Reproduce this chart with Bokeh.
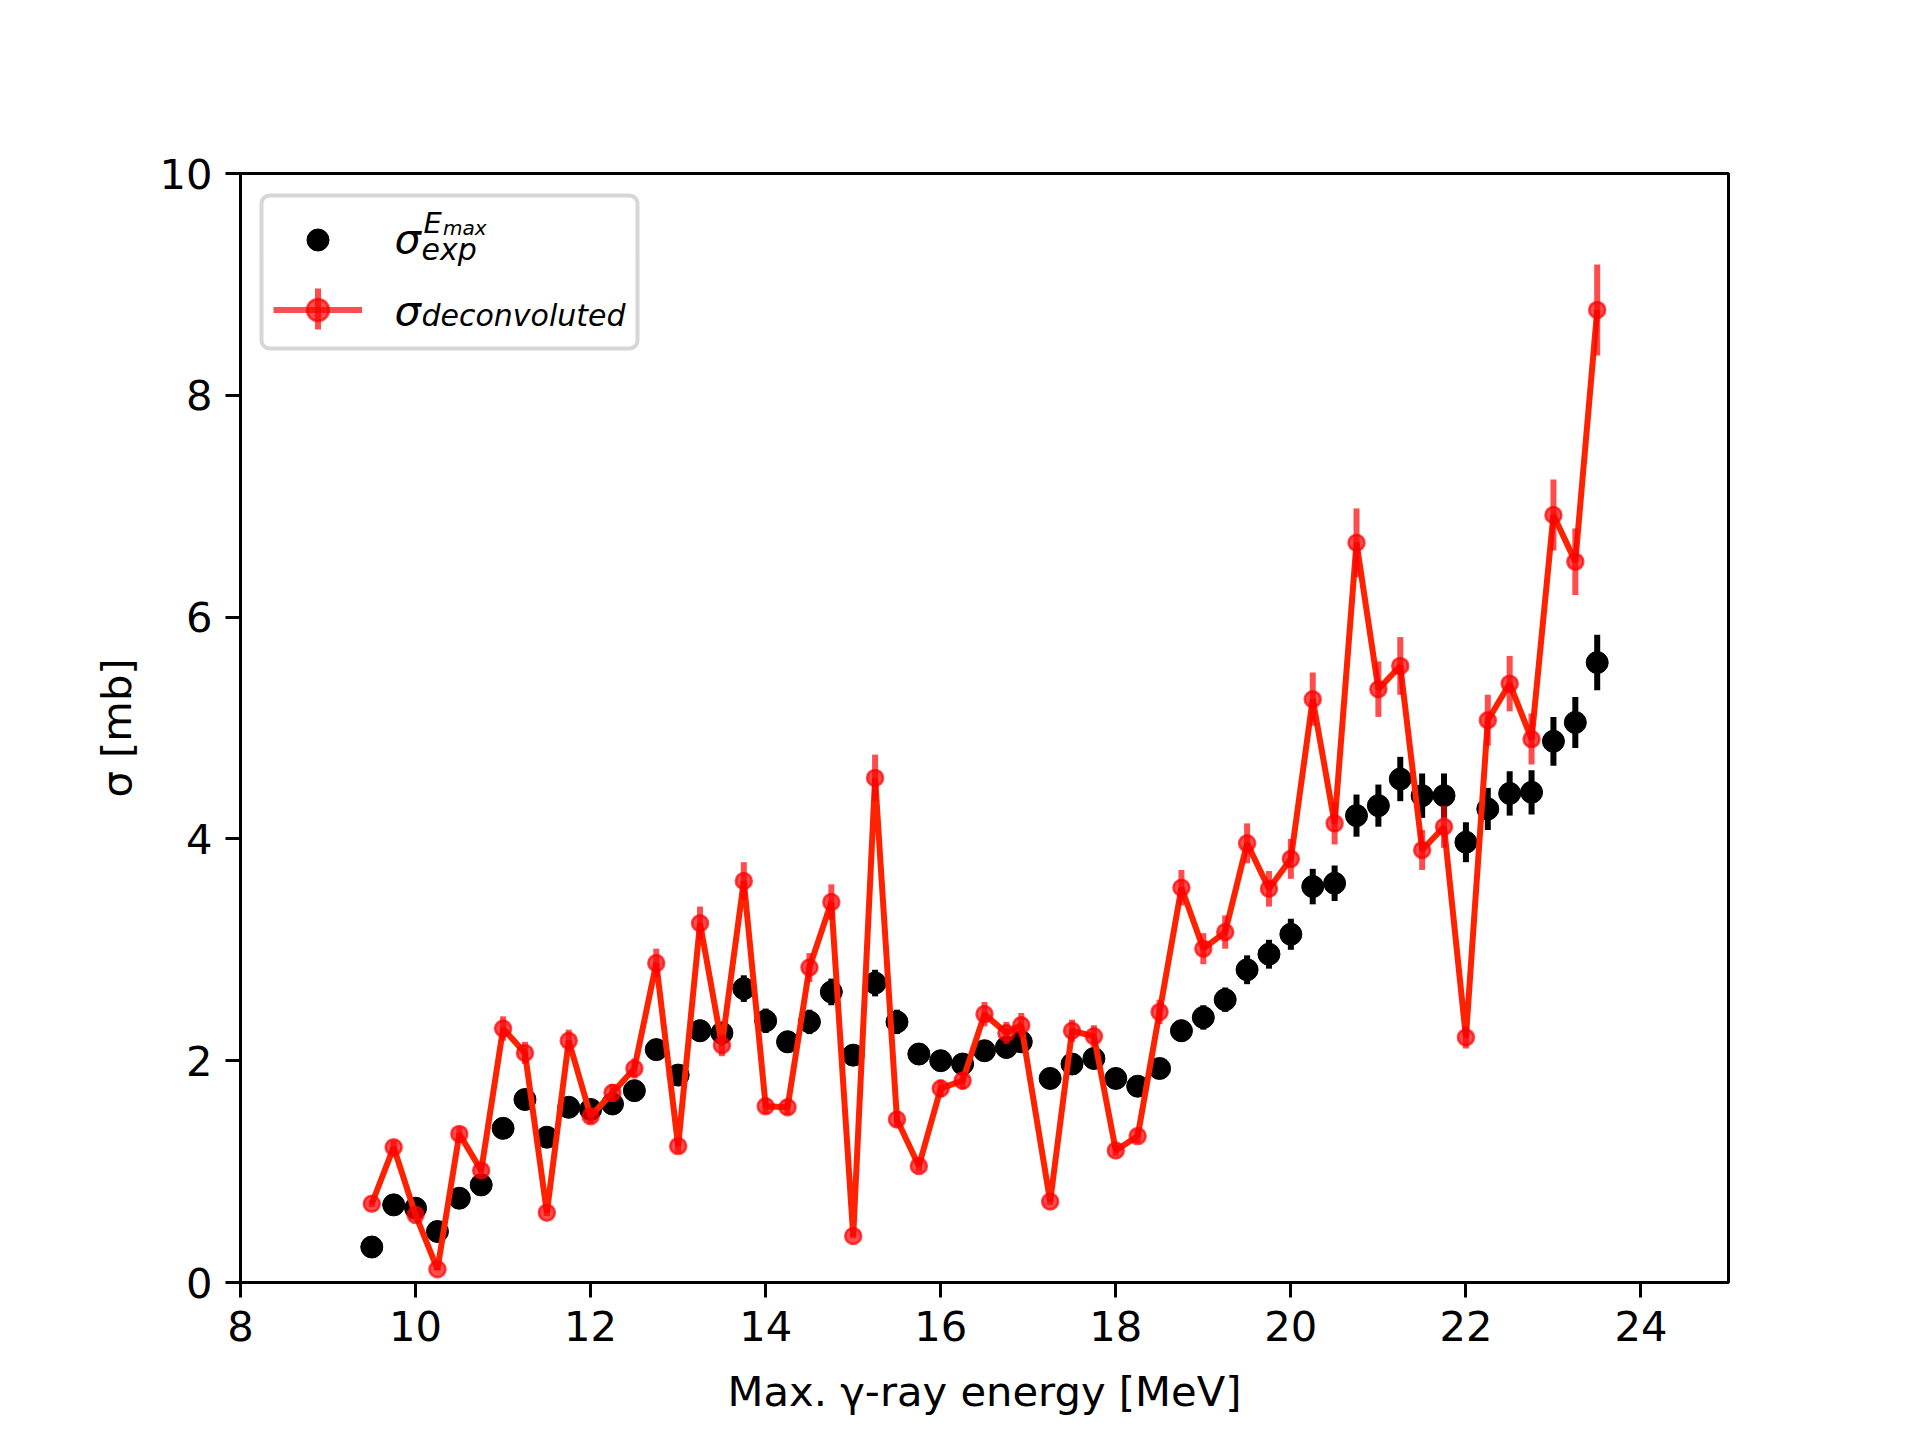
from bokeh.plotting import figure
from bokeh.models import (ColumnDataSource, Range1d, FixedTicker, Legend, LegendItem,
                          Label, BoxAnnotation)
from bokeh.core.properties import value
from bokeh.embed import file_html
from bokeh.resources import INLINE

# ---------------- data ----------------
energy = [9.5, 9.75, 10.0, 10.25, 10.5, 10.75, 11.0, 11.25, 11.5, 11.75,
          12.0, 12.25, 12.5, 12.75, 13.0, 13.25, 13.5, 13.75, 14.0, 14.25,
          14.5, 14.75, 15.0, 15.25, 15.5, 15.75, 16.0, 16.25, 16.5, 16.75,
          16.92, 17.25, 17.5, 17.75, 18.0, 18.25, 18.5, 18.75, 19.0, 19.25,
          19.5, 19.75, 20.0, 20.25, 20.5, 20.75, 21.0, 21.25, 21.5, 21.75,
          22.0, 22.25, 22.5, 22.75, 23.0, 23.25, 23.5]

sigma_exp = [0.32, 0.70, 0.67, 0.46, 0.76, 0.88, 1.39, 1.65, 1.31, 1.58,
             1.56, 1.61, 1.73, 2.10, 1.87, 2.27, 2.25, 2.65, 2.36, 2.17,
             2.35, 2.62, 2.05, 2.70, 2.35, 2.06, 2.00, 1.97, 2.09, 2.12,
             2.17, 1.84, 1.97, 2.02, 1.84, 1.77, 1.93, 2.27, 2.39, 2.55,
             2.82, 2.96, 3.14, 3.57, 3.60, 4.21, 4.30, 4.54, 4.39, 4.39,
             3.97, 4.27, 4.41, 4.42, 4.88, 5.05, 5.59]

sigma_exp_err = [0.01, 0.03, 0.03, 0.02, 0.03, 0.04, 0.06, 0.07, 0.06, 0.07,
                 0.07, 0.07, 0.08, 0.09, 0.08, 0.10, 0.10, 0.12, 0.11, 0.10,
                 0.11, 0.12, 0.09, 0.12, 0.11, 0.09, 0.09, 0.09, 0.09, 0.10,
                 0.10, 0.08, 0.09, 0.09, 0.08, 0.08, 0.09, 0.10, 0.11, 0.11,
                 0.13, 0.13, 0.14, 0.16, 0.16, 0.19, 0.19, 0.20, 0.20, 0.20,
                 0.18, 0.19, 0.20, 0.20, 0.22, 0.23, 0.25]

sigma_dec = [0.71, 1.22, 0.61, 0.12, 1.34, 1.01, 2.29, 2.07, 0.63, 2.18,
             1.50, 1.71, 1.93, 2.88, 1.23, 3.24, 2.14, 3.62, 1.59, 1.58,
             2.84, 3.43, 0.42, 4.55, 1.47, 1.05, 1.75, 1.82, 2.42, 2.25,
             2.32, 0.73, 2.27, 2.22, 1.19, 1.32, 2.44, 3.56, 3.01, 3.16,
             3.96, 3.55, 3.82, 5.26, 4.14, 6.67, 5.35, 5.56, 3.90, 4.11,
             2.21, 5.07, 5.40, 4.90, 6.92, 6.50, 8.77]

sigma_dec_err = [0.03, 0.06, 0.03, 0.01, 0.06, 0.05, 0.11, 0.10, 0.03, 0.10,
                 0.07, 0.08, 0.09, 0.13, 0.06, 0.15, 0.10, 0.17, 0.07, 0.07,
                 0.13, 0.16, 0.02, 0.21, 0.07, 0.05, 0.08, 0.08, 0.11, 0.10,
                 0.11, 0.03, 0.10, 0.10, 0.05, 0.06, 0.11, 0.16, 0.14, 0.15,
                 0.18, 0.16, 0.18, 0.24, 0.19, 0.31, 0.25, 0.26, 0.18, 0.19,
                 0.10, 0.23, 0.25, 0.23, 0.32, 0.30, 0.41]

x_ticks = [8, 10, 12, 14, 16, 18, 20, 22, 24]
y_ticks = [0, 2, 4, 6, 8, 10]
x_label = "Max. γ-ray energy [MeV]"
y_label = "σ [mb]"

# ---------------- sources ----------------
src_exp = ColumnDataSource(dict(
    x=energy, y=sigma_exp,
    lo=[v - e for v, e in zip(sigma_exp, sigma_exp_err)],
    hi=[v + e for v, e in zip(sigma_exp, sigma_exp_err)]))
src_dec = ColumnDataSource(dict(
    x=energy, y=sigma_dec,
    lo=[v - e for v, e in zip(sigma_dec, sigma_dec_err)],
    hi=[v + e for v, e in zip(sigma_dec, sigma_dec_err)]))

FONT = "DejaVu Sans"
FS = "41.67px"

p = figure(width=1904, height=1424, title=None,
           x_range=Range1d(8, 25), y_range=Range1d(0, 10),
           output_backend="svg", toolbar_location=None,
           min_border_left=240, min_border_right=176,
           min_border_top=173, min_border_bottom=142,
           background_fill_color="white", border_fill_color="white")

p.grid.visible = False
p.outline_line_color = "black"
p.outline_line_width = 3

for ax in (p.xaxis[0], p.yaxis[0]):
    ax.axis_line_width = 3
    ax.axis_line_color = "black"
    ax.major_tick_line_width = 3
    ax.major_tick_line_color = "black"
    ax.major_tick_out = 15
    ax.major_tick_in = 0
    ax.minor_tick_out = 0
    ax.minor_tick_in = 0
    ax.major_label_text_font = FONT
    ax.major_label_text_font_size = FS
    ax.major_label_text_color = "black"
    ax.axis_label_text_font = FONT
    ax.axis_label_text_font_size = FS
    ax.axis_label_text_font_style = "normal"
    ax.axis_label_text_color = "black"

p.xaxis.ticker = FixedTicker(ticks=x_ticks)
p.yaxis.ticker = FixedTicker(ticks=y_ticks)
p.xaxis.axis_label = x_label
p.yaxis.axis_label = y_label
p.xaxis.major_label_standoff = 13
p.yaxis.major_label_standoff = 13
p.xaxis.axis_label_standoff = 23
p.yaxis.axis_label_standoff = 15

# ---------------- glyphs ----------------
p.segment(x0="x", y0="lo", x1="x", y1="hi", source=src_exp,
          line_color="black", line_width=6)
r_exp = p.scatter("x", "y", source=src_exp, size=22,
                  fill_color="black", line_color="black")
p.line("x", "y", source=src_dec, line_color="#ff2200", line_width=6)
r_dec_seg = p.segment(x0="x", y0="lo", x1="x", y1="hi", source=src_dec,
                      line_color="red", line_alpha=0.7, line_width=6)
r_dec = p.scatter("x", "y", source=src_dec, size=16,
                  fill_color="red", fill_alpha=0.7,
                  line_color="red", line_alpha=0.7, line_width=2.5)

# ---------------- legend ----------------
box = BoxAnnotation(left=21, right=397, top=1087, bottom=934,
                    left_units="screen", right_units="screen",
                    top_units="screen", bottom_units="screen",
                    fill_color="white", fill_alpha=0.8,
                    line_color="#cccccc", line_alpha=0.8, line_width=4,
                    border_radius=8)
p.add_layout(box)

legend = Legend(items=[
    LegendItem(label=value(" "), renderers=[r_exp]),
    LegendItem(label=value(" "), renderers=[r_dec_seg, r_dec]),
], location=(23, 935.5), margin=0, padding=10,
    glyph_width=89, glyph_height=55, spacing=15,
    label_standoff=35, label_width=230, label_text_font_size="10px",
    background_fill_alpha=0, border_line_alpha=0)
p.add_layout(legend)

vbar = BoxAnnotation(left=74.5, right=80.5, top=994, bottom=953,
                     left_units="screen", right_units="screen",
                     top_units="screen", bottom_units="screen",
                     fill_color="red", fill_alpha=0.7, line_alpha=0)
p.add_layout(vbar)

def lab(x, y, text, size):
    p.add_layout(Label(x=x, y=y, x_units="screen", y_units="screen", text=text,
                       text_font=FONT, text_font_style="italic",
                       text_font_size=size, text_color="black",
                       text_baseline="alphabetic", text_align="left"))

lab(154, 1044, "σ", FS)
lab(183, 1059.7, "E", "29px")
lab(202.5, 1054.7, "max", "20px")
lab(181, 1033, "exp", "30px")
lab(154, 972, "σ", FS)
lab(181, 967.3, "deconvoluted", "30px")

open("out.html", "w").write(file_html(p, INLINE))
